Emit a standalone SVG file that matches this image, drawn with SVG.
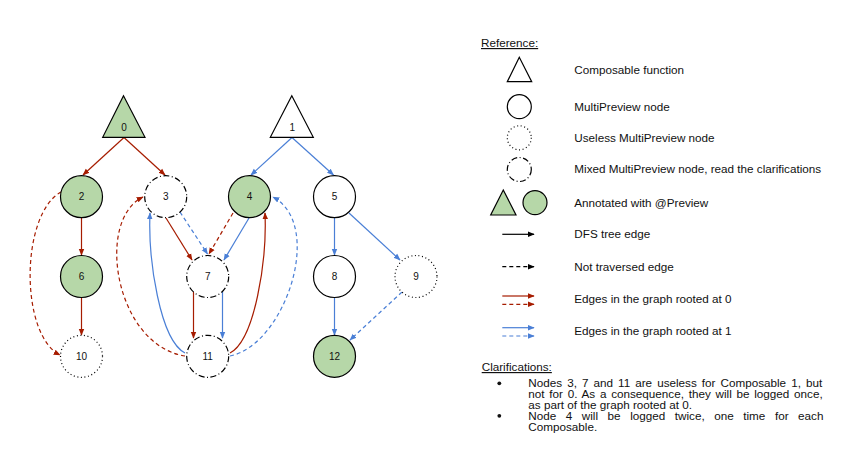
<svg xmlns="http://www.w3.org/2000/svg" width="863" height="471" viewBox="0 0 863 471">
<style>
text{font-family:"Liberation Sans",Arial,sans-serif;fill:#111}
.lbl{font-size:10px;text-anchor:middle}
.lg{font-size:11.7px}
.n{stroke:#000;stroke-width:1.2;fill:#fff}
.g{fill:#b6d7a8}
.dot{stroke-dasharray:1 2.6}
.dd{stroke-dasharray:6 2.5 1 2.5}
.e{fill:none;stroke-width:1.2}
.r{stroke:#a61c00}
.b{stroke:#4a7fd6}
.k{stroke:#000}
.ds{stroke-dasharray:4 3}
.mr{marker-end:url(#ar)}
.mb{marker-end:url(#ab)}
.mk{marker-end:url(#ak)}
</style>
<defs>
<marker id="ar" viewBox="0 0 10 10" refX="9" refY="5" markerWidth="7" markerHeight="7" orient="auto" markerUnits="userSpaceOnUse"><path d="M0 1 L10 5 L0 9 z" fill="#a61c00"/></marker>
<marker id="ab" viewBox="0 0 10 10" refX="9" refY="5" markerWidth="7" markerHeight="7" orient="auto" markerUnits="userSpaceOnUse"><path d="M0 1 L10 5 L0 9 z" fill="#4a7fd6"/></marker>
<marker id="ak" viewBox="0 0 10 10" refX="9" refY="5" markerWidth="7" markerHeight="7" orient="auto" markerUnits="userSpaceOnUse"><path d="M0 1 L10 5 L0 9 z" fill="#000"/></marker>
</defs>
<rect width="863" height="471" fill="#fff"/>

<g id="connectors">
<path class="e r mr" d="M124 137.5 L83 175"/>
<path class="e r mr" d="M124 137.5 L165 175"/>
<path class="e b mb" d="M292 137.5 L251 175"/>
<path class="e b mb" d="M292 137.5 L333.5 175"/>
<path class="e r mr" d="M81.5 218 L81.5 255"/>
<path class="e r mr" d="M81.5 298 L81.5 335"/>
<path class="e r ds mr" d="M61 192 C 20 215, 20 335, 60 355"/>
<path class="e r mr" d="M166 218 L192 260"/>
<path class="e b ds mb" d="M180 212 L207.5 254"/>
<path class="e r ds mr" d="M233 213 L209 254"/>
<path class="e b mb" d="M249 218 L224 260"/>
<path class="e r mr" d="M193.5 292 L193.5 338"/>
<path class="e b mb" d="M222.5 292 L222.5 338"/>
<path class="e b mb" d="M185 353 C 160 340, 148 260, 150 213"/>
<path class="e r mr" d="M230 353 C 255 340, 267 260, 265 213"/>
<path class="e r ds mr" d="M185 356 C 115 345, 95 220, 143 197"/>
<path class="e b ds mb" d="M230 356 C 285 345, 325 225, 273 197"/>
<path class="e b mb" d="M334.5 218 L334.5 255"/>
<path class="e b mb" d="M349 213 L400 260"/>
<path class="e b mb" d="M334.5 298 L334.5 335"/>
<path class="e b ds mb" d="M402 292 L350 340"/>
</g>

<g id="node0"><polygon class="n g" points="123.5,95.7 102.7,137.3 145,137.3"/><text class="lbl" x="124" y="131.3">0</text></g>
<g id="node1"><polygon class="n" points="291.8,95.7 270.3,137.3 313.3,137.3"/><text class="lbl" x="292.3" y="131.3">1</text></g>
<g id="node2"><circle class="n g" cx="81.5" cy="196.7" r="21"/><text class="lbl" x="81.5" y="200.3">2</text></g>
<g id="node3"><circle class="n dd" cx="165.7" cy="196.7" r="21"/><text class="lbl" x="165.7" y="200.3">3</text></g>
<g id="node4"><circle class="n g" cx="249.5" cy="196.7" r="21"/><text class="lbl" x="249.5" y="200.3">4</text></g>
<g id="node5"><circle class="n" cx="334.5" cy="196.7" r="21"/><text class="lbl" x="334.5" y="200.3">5</text></g>
<g id="node6"><circle class="n g" cx="81.5" cy="276.5" r="21"/><text class="lbl" x="81.5" y="280.1">6</text></g>
<g id="node7"><circle class="n dd" cx="207.7" cy="276.5" r="21"/><text class="lbl" x="207.7" y="280.1">7</text></g>
<g id="node8"><circle class="n" cx="334.5" cy="276.5" r="21"/><text class="lbl" x="334.5" y="280.1">8</text></g>
<g id="node9"><circle class="n dot" cx="416" cy="276.5" r="21"/><text class="lbl" x="416" y="280.1">9</text></g>
<g id="node10"><circle class="n dot" cx="81.5" cy="356.3" r="21"/><text class="lbl" x="81.5" y="359.9">10</text></g>
<g id="node11"><circle class="n dd" cx="207.7" cy="356.3" r="21"/><text class="lbl" x="207.7" y="359.9">11</text></g>
<g id="node12"><circle class="n g" cx="334.5" cy="356.3" r="21"/><text class="lbl" x="334.5" y="359.9">12</text></g>

<g id="legend">
<text class="lg" x="481" y="47" text-decoration="underline">Reference:</text>
<polygon class="n" points="519.3,57.3 507.3,81.7 531.7,81.7"/>
<text class="lg" x="574.3" y="74">Composable function</text>
<circle class="n" cx="519.3" cy="106.7" r="12"/>
<text class="lg" x="574.3" y="110.5">MultiPreview node</text>
<circle class="n dot" cx="519.3" cy="137.8" r="12"/>
<text class="lg" x="574.3" y="141.6">Useless MultiPreview node</text>
<circle class="n dd" cx="519.3" cy="169.5" r="12"/>
<text class="lg" x="574.3" y="173.4">Mixed MultiPreview node, read the clarifications</text>
<polygon class="n g" points="503.3,190 490.7,215 516,215"/>
<circle class="n g" cx="535" cy="202.6" r="12"/>
<text class="lg" x="574.3" y="206.5">Annotated with @Preview</text>
<path class="e k mk" d="M502.3 234.3 L534 234.3"/>
<text class="lg" x="574.3" y="238.3">DFS tree edge</text>
<path class="e k ds mk" d="M502.3 266.7 L534 266.7"/>
<text class="lg" x="574.3" y="270.6">Not traversed edge</text>
<path class="e r mr" d="M502.3 296 L534 296"/>
<path class="e r ds mr" d="M502.3 304.3 L534 304.3"/>
<text class="lg" x="574.3" y="303">Edges in the graph rooted at 0</text>
<path class="e b mb" d="M502.3 327.7 L534 327.7"/>
<path class="e b ds mb" d="M502.3 336 L534 336"/>
<text class="lg" x="574.3" y="334.8">Edges in the graph rooted at 1</text>
<text class="lg" x="481.7" y="371" text-decoration="underline">Clarifications:</text>
<circle cx="499.3" cy="383.3" r="1.9" fill="#111"/>
<text class="lg" x="528.3" y="387.3" word-spacing="1.8">Nodes 3, 7 and 11 are useless for Composable 1, but</text>
<text class="lg" x="528.3" y="398.2" word-spacing="1.5">not for 0. As a consequence, they will be logged once,</text>
<text class="lg" x="528.3" y="409">as part of the graph rooted at 0.</text>
<circle cx="499.3" cy="415.8" r="1.9" fill="#111"/>
<text class="lg" x="528.3" y="419.8" word-spacing="6.3">Node 4 will be logged twice, one time for each</text>
<text class="lg" x="528.3" y="430.7">Composable.</text>
</g>
</svg>
